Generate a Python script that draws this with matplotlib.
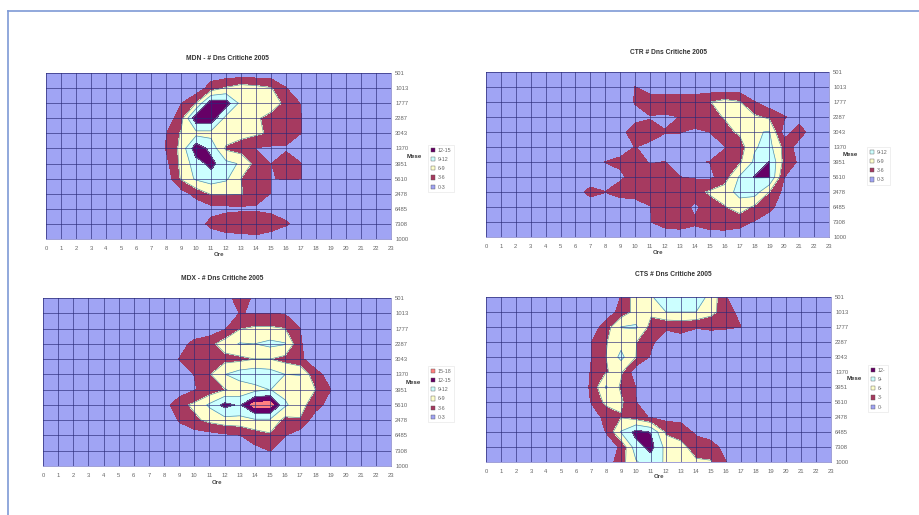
import numpy as np
import matplotlib
matplotlib.use('Agg')
import matplotlib.pyplot as plt
from matplotlib.patches import Patch
from matplotlib.lines import Line2D

# Hours on x, months on y, one row of values per y label
hours = list(range(24))
month_labels = ['501', '1013', '1777', '2287', '3043', '1370', '3951', '5610', '2478', '6485', '7308', '1000']
levels = [0, 3, 6, 9, 12, 15, 18]
band_colors = ['#A0A4F4', '#A63A60', '#FFFFCC', '#CCFFFF', '#660066', '#FF8080']

mdn = [
    [0, 0, 0, 0, 0, 0, 0, 0, 0, 0, 0, 1.3, 1, 1, 1, 1, 0.5, 0, 0, 0, 0, 0, 0, 0],
    [0, 0, 0, 0, 0, 0, 0, 0, 0, 0, 1, 4.3, 6.3, 7.5, 7, 6.2, 3.1, 0, 0, 0, 0, 0, 0, 0],
    [0, 0, 0, 0, 0, 0, 0, 0, 0, 2.8, 6, 14, 13.5, 8, 7.5, 7, 5.5, 2.8, 0, 0, 0, 0, 0, 0],
    [0, 0, 0, 0, 0, 0, 0, 0, 1, 4.8, 14, 14, 8, 7, 6.3, 5.3, 4.5, 3.1, 0, 0, 0, 0, 0, 0],
    [0, 0, 0, 0, 0, 0, 0, 0, 2.8, 6.3, 8, 8, 8, 7, 6.5, 5.5, 4.8, 3, 0, 0, 0, 0, 0, 0],
    [0, 0, 0, 0, 0, 0, 0, 0, 3.2, 6.8, 14, 11, 5.5, 4.5, 2.8, 2.5, 2.5, 1.5, 0, 0, 0, 0, 0, 0],
    [0, 0, 0, 0, 0, 0, 0, 0, 2, 6.8, 10.5, 13, 9.8, 8.7, 4.8, 2.9, 5, 3.05, 0, 0, 0, 0, 0, 0],
    [0, 0, 0, 0, 0, 0, 0, 0, 1, 6.3, 9.5, 10.5, 9.5, 6, 4.5, 2.9, 3.2, 3.05, 0, 0, 0, 0, 0, 0],
    [0, 0, 0, 0, 0, 0, 0, 0, 0, 1.5, 4, 6.3, 6.3, 6.2, 4.5, 2.9, 0, 0, 0, 0, 0, 0, 0, 0],
    [0, 0, 0, 0, 0, 0, 0, 0, 0, 0, 1, 2, 2.2, 2.4, 2.5, 2, 1.5, 0, 0, 0, 0, 0, 0, 0],
    [0, 0, 0, 0, 0, 0, 0, 0, 0, 0, 1.5, 3.8, 5, 5.5, 5.5, 5, 3.4, 1.5, 0, 0, 0, 0, 0, 0],
    [0, 0, 0, 0, 0, 0, 0, 0, 0, 0, 0, 1, 1.5, 1.5, 2, 1, 0, 0, 0, 0, 0, 0, 0, 0],
]

ctr = [
    [0, 0, 0, 0, 0, 0, 0, 0, 0, 0, 0, 0, 0, 0, 0, 0, 0, 0, 0, 0, 0, 0, 0, 0],
    [0, 0, 0, 0, 0, 0, 0, 0, 0, 1, 3.1, 1, 1, 1, 1, 1, 1, 1, 0.5, 0, 0, 0, 0, 0],
    [0, 0, 0, 0, 0, 0, 0, 0, 0, 1, 3.2, 5, 5, 5, 5, 5.9, 7, 6.2, 3.1, 1, 0, 0, 0, 0],
    [0, 0, 0, 0, 0, 0, 0, 0, 0, 1, 2, 2.8, 2.5, 3.05, 4.5, 5, 6.2, 7, 6.5, 5.5, 3.3, 1.5, 0, 0],
    [0, 0, 0, 0, 0, 0, 0, 0, 0, 2, 4.5, 4, 3.1, 3.1, 2.5, 3, 5, 6.5, 8.7, 9.2, 1.5, 4.5, 1, 0],
    [0, 0, 0, 0, 0, 0, 0, 0, 1, 2, 3.05, 2.4, 2, 2, 2, 2, 2.9, 4.5, 8.7, 10, 5, 1.5, 0, 0],
    [0, 0, 0, 0, 0, 0, 0, 1, 3.05, 3.5, 4, 2.8, 3.05, 2, 2.8, 3.05, 3.6, 5.5, 9.5, 12.1, 5, 2.5, 0, 0],
    [0, 0, 0, 0, 0, 0, 0, 0, 1.5, 2.5, 4, 4.5, 4, 3.05, 2.7, 2.3, 4.5, 9.3, 12.1, 12.3, 3.05, 0, 0, 0],
    [0, 0, 0, 0, 0, 0, 1, 4.5, 3.05, 4.2, 4.2, 4.3, 4.2, 4.4, 5, 6.4, 7.5, 10, 10.5, 6, 2, 0, 0, 0],
    [0, 0, 0, 0, 0, 0, 0, 0, 1, 1, 1.5, 2.9, 5, 4.5, 2.3, 4.5, 5.8, 7.5, 5.5, 4, 1, 0, 0, 0],
    [0, 0, 0, 0, 0, 0, 0, 0, 0, 0, 1, 2.9, 4, 4.4, 3.5, 4.5, 4.8, 4, 2.8, 1, 0, 0, 0, 0],
    [0, 0, 0, 0, 0, 0, 0, 0, 0, 0, 0, 1, 1.5, 1.5, 1.5, 1.5, 1.5, 1.5, 1, 0, 0, 0, 0, 0],
]

mdx = [
    [0, 0, 0, 0, 0, 0, 0, 0, 0, 0, 0, 0, 2, 4, 2.6, 1, 0, 0, 0, 0, 0, 0, 0, 0],
    [0, 0, 0, 0, 0, 0, 0, 0, 0, 0, 0, 1, 1.5, 3.05, 2.9, 2.95, 2.8, 1, 0, 0, 0, 0, 0, 0],
    [0, 0, 0, 0, 0, 0, 0, 0, 0, 0, 0.5, 1, 2.6, 5.8, 6.5, 6.5, 6, 3, 0, 0, 0, 0, 0, 0],
    [0, 0, 0, 0, 0, 0, 0, 0, 0, 1.5, 4, 5, 7.5, 9.2, 9, 9.8, 9.2, 3.4, 0, 0, 0, 0, 0, 0],
    [0, 0, 0, 0, 0, 0, 0, 0, 0, 3.05, 4.5, 4.5, 5, 5.2, 6, 6, 5, 3.5, 1.5, 0, 0, 0, 0, 0],
    [0, 0, 0, 0, 0, 0, 0, 0, 0, 1.5, 3.05, 5.7, 8.9, 10.5, 11, 10.5, 9, 9.1, 3.8, 2, 0, 0, 0, 0],
    [0, 0, 0, 0, 0, 0, 0, 0, 0, 1, 2.8, 4, 5.8, 7, 8, 9.05, 8, 7.5, 6, 3.05, 1, 0, 0, 0],
    [0, 0, 0, 0, 0, 0, 0, 0, 1.5, 5.1, 6.6, 9.5, 13, 11.5, 16.5, 16.5, 9.5, 7, 4.5, 1.5, 0, 0, 0, 0],
    [0, 0, 0, 0, 0, 0, 0, 0, 0, 3.3, 5.3, 6.8, 7.8, 8, 8.5, 8.5, 5, 5.8, 1, 0, 0, 0, 0, 0],
    [0, 0, 0, 0, 0, 0, 0, 0, 0, 1, 1.5, 1.8, 2.4, 2.9, 4.5, 5.5, 3.05, 1, 0, 0, 0, 0, 0, 0],
    [0, 0, 0, 0, 0, 0, 0, 0, 0, 0, 0, 0, 0, 1, 2, 3.05, 2, 0, 0, 0, 0, 0, 0, 0],
    [0, 0, 0, 0, 0, 0, 0, 0, 0, 0, 0, 0, 0, 0, 0, 0, 0, 0, 0, 0, 0, 0, 0, 0],
]

cts = [
    [0, 0, 0, 0, 0, 0, 0, 0, 0, 3.1, 7.8, 8.8, 10.2, 10.8, 10.8, 8, 3.2, 0, 0, 0, 0, 0, 0, 0],
    [0, 0, 0, 0, 0, 0, 0, 0, 1, 4.2, 7, 6.5, 9, 9, 9, 7, 4.3, 2, 0, 0, 0, 0, 0, 0],
    [0, 0, 0, 0, 0, 0, 0, 1, 4.5, 9.05, 9.4, 5, 3.4, 3.8, 3.2, 3.4, 3.5, 3, 0, 0, 0, 0, 0, 0],
    [0, 0, 0, 0, 0, 0, 0, 2.9, 5.8, 8, 6.1, 3.5, 1.5, 1.9, 1, 1.5, 0, 0, 0, 0, 0, 0, 0, 0],
    [0, 0, 0, 0, 0, 0, 0, 2.9, 6, 9.8, 6, 2.6, 0, 0, 0, 0, 0, 0, 0, 0, 0, 0, 0, 0],
    [0, 0, 0, 0, 0, 0, 0, 3.2, 5.9, 6.5, 1, 0, 0, 0, 0, 0, 0, 0, 0, 0, 0, 0, 0, 0],
    [0, 0, 0, 0, 0, 0, 0, 3.5, 9.3, 5.5, 2.9, 1, 0, 0, 0, 0, 0, 0, 0, 0, 0, 0, 0, 0],
    [0, 0, 0, 0, 0, 0, 0, 3.1, 6.8, 6.5, 3.05, 1, 0, 0, 0, 0, 0, 0, 0, 0, 0, 0, 0, 0],
    [0, 0, 0, 0, 0, 0, 0, 1.5, 3.8, 5.8, 4.5, 2.6, 2, 2, 1, 0, 0, 0, 0, 0, 0, 0, 0, 0],
    [0, 0, 0, 0, 0, 0, 0, 0, 3.1, 9.2, 13, 11.8, 5.5, 4.5, 2.5, 1, 0, 0, 0, 0, 0, 0, 0, 0],
    [0, 0, 0, 0, 0, 0, 0, 0, 1, 3.5, 10.8, 13, 8, 7, 4.5, 4.5, 1.5, 0, 0, 0, 0, 0, 0, 0],
    [0, 0, 0, 0, 0, 0, 0, 0, 1, 4.8, 8.7, 10.5, 8.6, 7.5, 6.5, 6.2, 3.1, 0, 0, 0, 0, 0, 0, 0],
]

mdn_legend = ['12-15', '9-12', '6-9', '3-6', '0-3']
ctr_legend = ['9-12', '6-9', '3-6', '0-3']
mdx_legend = ['15-18', '12-15', '9-12', '6-9', '3-6', '0-3']
cts_legend = ['12-', '9-', '6-', '3-', '0-']

W, H = 919, 515
fig = plt.figure(figsize=(W / 100, H / 100), dpi=100, facecolor='white')
plt.rcParams['font.family'] = ['Liberation Sans', 'DejaVu Sans']


def panel(values, title, legend_labels, box, title_xy, xlabel_xy, ylabel_xy, legend_xy):
    left, right, top, bottom = box
    ax = fig.add_axes([left / W, 1 - bottom / H, (right - left) / W, (bottom - top) / H])
    ax.contourf(hours, range(12), np.array(values), levels=levels, colors=band_colors)
    ax.contour(hours, range(12), np.array(values), levels=[6, 9, 12], colors='#5F8F9F', linewidths=0.5)
    ax.set_xlim(0, 23)
    ax.set_ylim(11, 0)
    ax.set_xticks(hours)
    ax.set_yticks(range(12))
    ax.set_yticklabels(month_labels)
    ax.yaxis.tick_right()
    ax.set_axisbelow(False)
    ax.grid(True, color='#2A2A78', linewidth=0.7, alpha=0.65)
    ax.tick_params(labelsize=4.2, length=0, pad=3, colors='#666666')
    ax.tick_params(axis='x', pad=5)
    for s in ax.spines.values():
        s.set_color('#7A7AC8')
        s.set_linewidth(0.5)

    fig.text(title_xy[0] / W, 1 - title_xy[1] / H, title, fontsize=4.8, fontweight='bold',
             color='#333333', ha='center', va='center')
    fig.text(xlabel_xy[0] / W, 1 - xlabel_xy[1] / H, 'Ore', fontsize=4.4, fontweight='bold',
             color='#444444', ha='center', va='center')
    fig.text(ylabel_xy[0] / W, 1 - ylabel_xy[1] / H, 'Mese', fontsize=4.4, fontweight='bold',
             color='#333333', ha='center', va='center')

    # legend swatches run from the highest band down to the lowest
    n = len(legend_labels)
    handles = [Patch(facecolor=band_colors[n - 1 - i], edgecolor='#555555', linewidth=0.3) for i in range(n)]
    leg = ax.legend(handles, legend_labels, loc='upper left', bbox_to_anchor=(legend_xy[0] / W, 1 - legend_xy[1] / H),
                    bbox_transform=fig.transFigure, fontsize=3.8, frameon=True, fancybox=False,
                    handlelength=0.9, handleheight=0.9, handletextpad=0.5, labelspacing=0.8,
                    borderpad=0.5, borderaxespad=0)
    leg.get_frame().set_edgecolor('#DDDDDD')
    leg.get_frame().set_linewidth(0.4)
    for t in leg.get_texts():
        t.set_color('#666666')


panel(mdn, 'MDN - # Dns Critiche 2005', mdn_legend, (46, 391, 73, 239), (227, 59), (219, 255), (414, 156), (428, 145))
panel(ctr, 'CTR # Dns Critiche 2005', ctr_legend, (486, 829, 72, 237), (669, 52), (658, 252), (850, 154), (867, 147))
panel(mdx, 'MDX - # Dns Critiche 2005', mdx_legend, (43, 391, 298, 466), (222, 279), (217, 482), (413, 382), (428, 366))
panel(cts, 'CTS # Dns Critiche 2005', cts_legend, (486, 831, 297, 462), (673, 274), (659, 477), (854, 379), (868, 365))

# Blue slide frame along the top and left
for xs, ys in [((8 / W, 1), (1 - 11 / H, 1 - 11 / H)), ((8 / W, 8 / W), (0, 1 - 11 / H))]:
    fig.add_artist(Line2D(xs, ys, color='#7E9AD6', linewidth=1.2))

fig.savefig('out.png', dpi=100)
